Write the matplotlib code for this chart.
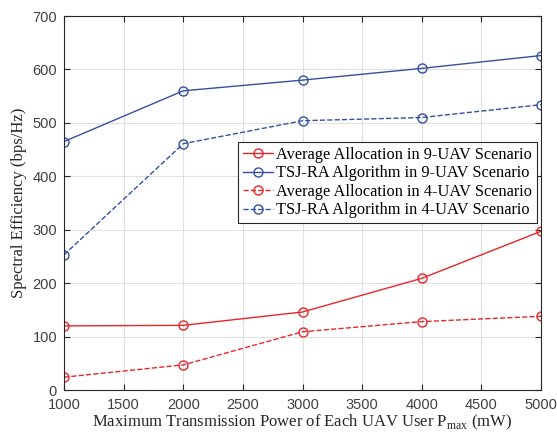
import numpy as np
import matplotlib
matplotlib.use('Agg')
import matplotlib.pyplot as plt

plt.rcParams['mathtext.fontset'] = 'custom'
plt.rcParams['mathtext.rm'] = 'Liberation Serif'

# data
power = [1000, 2000, 3000, 4000, 5000]
avg_9uav = [120, 121, 146, 209, 297]
tsj_9uav = [465, 560, 580, 602, 626]
avg_4uav = [24, 47, 109, 128, 138]
tsj_4uav = [253, 461, 504, 510, 534]

labels = ['Average Allocation in 9-UAV Scenario',
          'TSJ-RA Algorithm in 9-UAV Scenario',
          'Average Allocation in 4-UAV Scenario',
          'TSJ-RA Algorithm in 4-UAV Scenario']

red = '#e8262a'
blue = '#3650a0'

fig = plt.figure(figsize=(5.57, 4.36), dpi=100)
ax = fig.add_axes([64/557, 1-390/436, 477/557, 374/436])

mk = dict(marker='o', markersize=6.5, markerfacecolor='none', linewidth=1.0, markeredgewidth=1.0)
ax.plot(power, avg_9uav, '-', color=red, label=labels[0], **mk)
ax.plot(power, tsj_9uav, '-', color=blue, label=labels[1], **mk)
ax.plot(power, avg_4uav, '--', color=red, label=labels[2], **mk)
ax.plot(power, tsj_4uav, '--', color=blue, label=labels[3], **mk)

ax.set_xlim(1000, 5000)
ax.set_ylim(0, 700)
ax.set_xticks(np.arange(1000, 5001, 500))
ax.set_yticks(np.arange(0, 701, 100))
ax.grid(True, color='#e0e0e0', linewidth=0.8)
ax.set_axisbelow(True)
ax.tick_params(direction='in', top=True, right=True, labelsize=10.5, colors='#262626', length=4)
ax.tick_params(axis='x', pad=6, labelcolor='#404040')
ax.tick_params(axis='y', pad=5, labelcolor='#404040')
for lab in ax.get_xticklabels() + ax.get_yticklabels():
    lab.set_family('Liberation Sans')
for s in ax.spines.values():
    s.set_color('#262626')
    s.set_linewidth(0.8)

ax.set_xlabel('Maximum Transmission Power of Each UAV User P$_{\\rm max}$ (mW)',
              family='Liberation Serif', fontsize=12, color='#262626', labelpad=0)
ax.set_ylabel('Spectral Efficiency (bps/Hz)', family='Liberation Serif', fontsize=12,
              color='#262626', labelpad=4)

leg = ax.legend(loc='upper left', bbox_to_anchor=(0.365, 0.663), fancybox=False,
                prop={'family': 'Liberation Serif', 'size': 11.8}, handlelength=1.8,
                handletextpad=0.2, borderpad=0.3, labelspacing=0.15, borderaxespad=0,
                framealpha=1, edgecolor='#262626')
leg.get_frame().set_linewidth(0.8)

fig.savefig('out.png', dpi=100)
